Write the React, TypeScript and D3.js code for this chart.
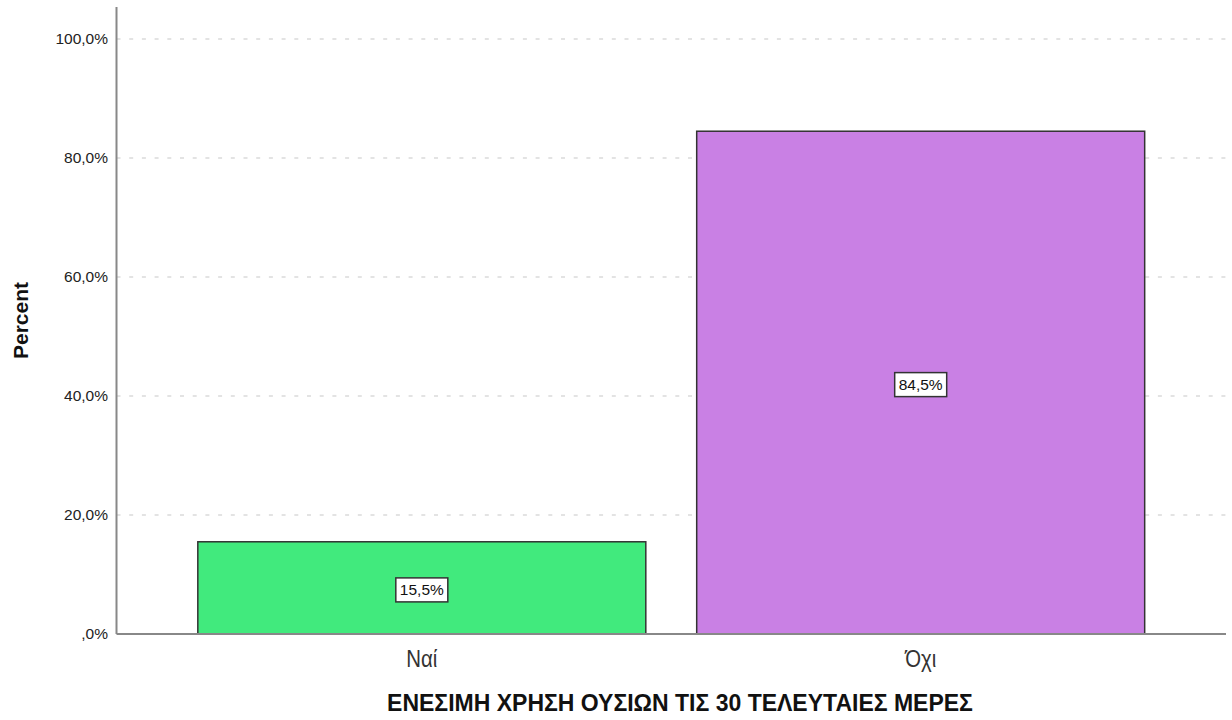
import React from "react";
import * as d3 from "d3";

const categories = ["Ναί", "Όχι"];
const values = [15.5, 84.5];
const valueLabels = ["15,5%", "84,5%"];
const yTicks = [0, 20, 40, 60, 80, 100];
const yTickLabels = [",0%", "20,0%", "40,0%", "60,0%", "80,0%", "100,0%"];
const colors = ["#41ea7d", "#c980e4"];
const xTitle = "ΕΝΕΣΙΜΗ ΧΡΗΣΗ ΟΥΣΙΩΝ ΤΙΣ 30 ΤΕΛΕΥΤΑΙΕΣ ΜΕΡΕΣ";
const yTitle = "Percent";

const W = 1232;
const H = 720;
const left = 116.5;
const right = 1226;
const top = 7;
const bottom = 634;

export default function App() {
  const x = d3
    .scaleBand<string>()
    .domain(categories)
    .range([left, right])
    .paddingInner(0.102)
    .paddingOuter(0.163);
  const y = d3.scaleLinear().domain([0, 100]).range([bottom, 39]);
  const font = "'Liberation Sans', Arial, sans-serif";
  return (
    <svg
      width={W}
      height={H}
      style={{ position: "absolute", left: 0, top: 0, background: "#fff" }}
      fontFamily={font}
    >
      {yTicks.map((t, i) => (
        <g key={t}>
          {t > 0 && (
            <line
              x1={left}
              x2={right}
              y1={y(t)}
              y2={y(t)}
              stroke="#c8c8c8"
              strokeWidth={1.2}
              strokeDasharray="4 8.7"
            />
          )}
          <text
            x={108}
            y={y(t)}
            dy="0.35em"
            textAnchor="end"
            fontSize={15.5}
            fill="#222"
          >
            {yTickLabels[i]}
          </text>
        </g>
      ))}
      {categories.map((c, i) => (
        <rect
          key={c}
          x={x(c)}
          y={y(values[i])}
          width={x.bandwidth()}
          height={bottom - y(values[i])}
          fill={colors[i]}
          stroke="#333"
          strokeWidth={1.5}
        />
      ))}
      <line x1={left} x2={left} y1={top} y2={bottom} stroke="#888" strokeWidth={2} />
      <line x1={left} x2={right} y1={bottom} y2={bottom} stroke="#888" strokeWidth={2} />
      {categories.map((c, i) => {
        const cx = (x(c) as number) + x.bandwidth() / 2;
        const cy = (y(values[i]) + bottom) / 2 + 2;
        return (
          <g key={"l" + c}>
            <rect
              x={cx - 26}
              y={cy - 12}
              width={52}
              height={24}
              fill="#fff"
              stroke="#333"
              strokeWidth={1.5}
            />
            <text x={cx} y={cy} dy="0.36em" textAnchor="middle" fontSize={15.5} fill="#111">
              {valueLabels[i]}
            </text>
            <text
              transform={`translate(${cx},667) scale(0.85,1)`}
              textAnchor="middle"
              fontSize={24}
              fill="#333"
            >
              {c}
            </text>
          </g>
        );
      })}
      <text
        x={680}
        y={711}
        textAnchor="middle"
        fontSize={23}
        fontWeight="bold"
        fill="#111"
      >
        {xTitle}
      </text>
      <text
        transform={`translate(28,${(top + bottom) / 2}) rotate(-90)`}
        textAnchor="middle"
        fontSize={21}
        fontWeight="bold"
        fill="#111"
      >
        {yTitle}
      </text>
    </svg>
  );
}
